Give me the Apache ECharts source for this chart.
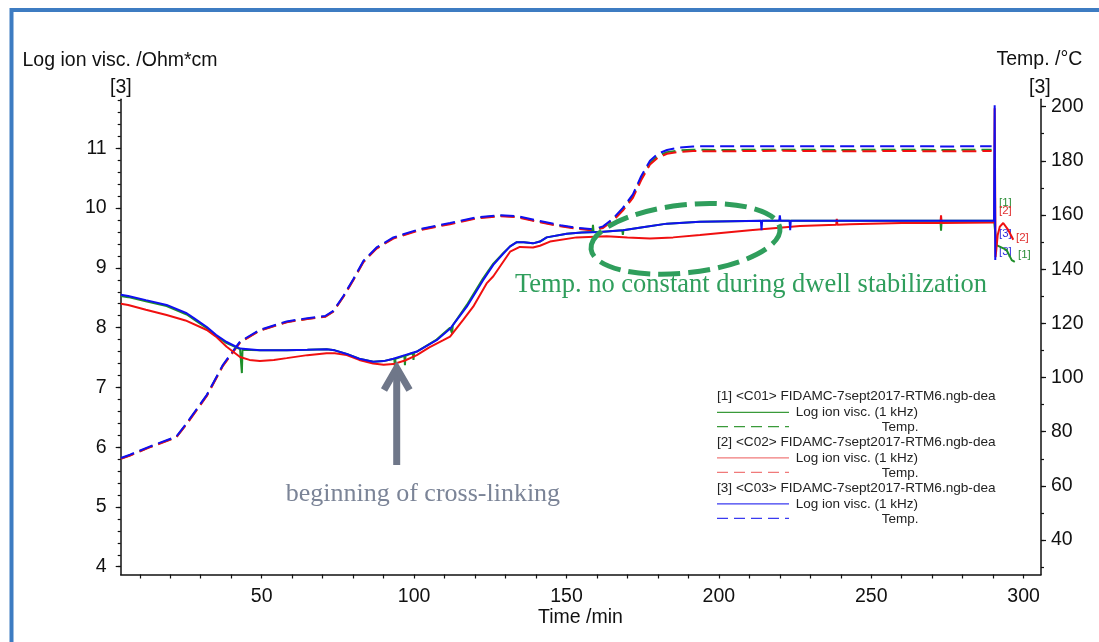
<!DOCTYPE html>
<html><head><meta charset="utf-8">
<script src="https://cdn.jsdelivr.net/npm/echarts@6/dist/echarts.min.js"></script>
<style>html,body{margin:0;padding:0;background:#fff;}#c{width:1099px;height:642px;}</style>
</head><body><div id="c"></div>
<script>
// ---- tick labels ----
const xTicks = [50, 100, 150, 200, 250, 300];
const leftTicks = [4, 5, 6, 7, 8, 9, 10, 11];
const rightTicks = [40, 60, 80, 100, 120, 140, 160, 180, 200];

// ---- temperature (°C), shared time base (min) ----
const tTemp = [3.8, 6.8, 13, 22, 25.8, 32, 37.3, 42.9, 49.4, 58.2, 65, 70.8, 73.5, 76.8, 80.1, 83.4, 87.7, 93.2, 101.9, 111.8, 120.5, 128.2, 133.7, 141.3, 148, 154, 158.7, 162, 165.3, 168.5, 171.8, 174.5, 177.4, 180, 183, 187, 191.5, 200, 220, 240, 260, 275, 289.5];
const tempBlue  = [70.3, 71.5, 74.4, 78.2, 83.8, 93.6, 104.7, 113.3, 117.6, 120.7, 121.9, 122.7, 124.6, 130.1, 136.4, 143.1, 148.0, 151.7, 154.8, 157.0, 159.1, 159.9, 159.6, 157.8, 156.2, 155.2, 154.7, 155.8, 158.7, 162.6, 167.6, 174.3, 180.0, 182.6, 184.0, 184.9, 185.3, 185.4, 185.4, 185.4, 185.4, 185.3, 185.4];
const tempRed   = [70.0, 71.2, 74.1, 77.9, 83.4, 93.2, 104.3, 112.9, 117.3, 120.4, 121.6, 122.4, 124.3, 129.7, 136.0, 142.6, 147.6, 151.3, 154.4, 156.6, 158.7, 159.5, 159.2, 157.3, 155.8, 154.8, 154.3, 155.2, 157.9, 161.6, 166.3, 172.8, 178.6, 181.2, 182.6, 183.3, 183.6, 183.5, 183.7, 183.5, 183.6, 183.5, 183.6];
const tempGreen = [70.1, 71.3, 74.2, 78.0, 83.6, 93.4, 104.5, 113.1, 117.4, 120.5, 121.7, 122.5, 124.4, 129.9, 136.2, 142.8, 147.8, 151.5, 154.6, 156.8, 158.9, 159.7, 159.4, 157.5, 156.0, 155.0, 154.5, 155.5, 158.3, 162.1, 166.9, 173.5, 179.2, 181.8, 183.2, 183.8, 184.1, 184.0, 184.1, 184.0, 184.1, 184.0, 184.1];

// ---- log ion viscosity, blue [3] ----
const tViscBlue = [3.8, 6.2, 12, 18.8, 25.4, 28, 32, 35, 38.5, 42.9, 49.4, 58.2, 65, 71.3, 74, 77.9, 82, 86.6, 90, 93.2, 97, 100.9, 107.4, 111.8, 117.3, 122.6, 126, 129.3, 131.5, 133.7, 136, 139, 141.3, 143.5, 150.1, 155, 161, 168.5, 175, 183, 193.8, 213.8, 214, 214.2, 219.8, 220, 220.2, 223.2, 223.4, 223.6, 250, 290.3, 290.5, 290.7];
const viscBlue  = [8.55, 8.53, 8.46, 8.38, 8.24, 8.15, 8.01, 7.88, 7.76, 7.65, 7.62, 7.62, 7.63, 7.64, 7.62, 7.56, 7.48, 7.43, 7.44, 7.48, 7.54, 7.60, 7.79, 7.98, 8.35, 8.79, 9.05, 9.24, 9.36, 9.43, 9.43, 9.41, 9.44, 9.51, 9.57, 9.59, 9.60, 9.63, 9.68, 9.74, 9.77, 9.79, 9.63, 9.79, 9.79, 9.88, 9.79, 9.79, 9.63, 9.79, 9.79, 9.79, 11.72, 9.13];

// ---- log ion viscosity, red [2] ----
const tViscRed = [3.8, 6.2, 12, 18.8, 25, 32, 35, 38.5, 42.9, 46, 49.4, 54, 58.2, 65, 71.3, 74, 77.9, 82, 86.6, 90, 93.2, 97, 100.9, 105, 109.6, 111.8, 116.1, 119.4, 123.8, 126, 131.5, 134.7, 139, 141.3, 144.6, 153.3, 163.2, 170, 177.4, 185, 193.8, 210.2, 226.6, 238.5, 238.7, 238.9, 243, 260, 272.7, 272.9, 273.1, 290.3, 290.5, 290.8, 291.5, 292.2, 293.3, 295, 296.1, 296.6];
const viscRed  = [8.40, 8.38, 8.30, 8.21, 8.12, 7.96, 7.85, 7.68, 7.51, 7.46, 7.44, 7.46, 7.49, 7.54, 7.57, 7.57, 7.54, 7.46, 7.40, 7.38, 7.39, 7.45, 7.54, 7.67, 7.79, 7.85, 8.13, 8.35, 8.74, 8.86, 9.27, 9.35, 9.34, 9.37, 9.44, 9.51, 9.53, 9.51, 9.49, 9.51, 9.55, 9.63, 9.70, 9.72, 9.82, 9.72, 9.73, 9.75, 9.75, 9.88, 9.75, 9.76, 11.67, 9.18, 9.55, 9.69, 9.75, 9.63, 9.52, 9.47];

// ---- log ion viscosity, green [1] ----
const tViscGreen = [3.8, 6.2, 12, 18.8, 25.4, 28, 32, 35, 38.5, 42.9, 43.3, 43.5, 43.7, 49.4, 58.2, 65, 71.3, 74, 77.9, 82, 86.6, 90, 93.5, 93.7, 93.9, 96.8, 97, 97.2, 99.6, 99.8, 100, 100.9, 107.4, 111.8, 112.3, 112.5, 112.7, 117.3, 122.6, 126, 129.3, 131.5, 133.7, 136, 139, 141.3, 143.5, 150.1, 155, 158.5, 158.7, 158.9, 161, 168.3, 168.5, 168.7, 175, 183, 193.8, 215.8, 250, 272.7, 272.9, 273.1, 290.3, 291.1, 294.4, 296.1, 297.1];
const viscGreen  = [8.53, 8.51, 8.44, 8.36, 8.22, 8.13, 7.99, 7.86, 7.74, 7.64, 7.63, 7.24, 7.63, 7.62, 7.62, 7.63, 7.64, 7.62, 7.56, 7.48, 7.43, 7.44, 7.48, 7.35, 7.48, 7.53, 7.37, 7.53, 7.58, 7.46, 7.58, 7.60, 7.80, 8.00, 8.03, 7.90, 8.04, 8.38, 8.82, 9.07, 9.25, 9.36, 9.43, 9.43, 9.41, 9.44, 9.51, 9.57, 9.59, 9.60, 9.72, 9.60, 9.60, 9.63, 9.55, 9.63, 9.68, 9.74, 9.77, 9.79, 9.79, 9.79, 9.62, 9.79, 9.79, 9.38, 9.30, 9.13, 9.10];

const C_GREEN = '#1f8f2a', C_RED = '#f01010', C_BLUE = '#1010f0';
const pairs = (ts, vs) => ts.map((t, i) => [t, vs[i]]);
const range = (a, b, s) => { const r = []; for (let v = a; v <= b + 1e-9; v += s) r.push(+v.toFixed(4)); return r; };

const FONT = 'Liberation Sans, Arial, sans-serif';
const SERIF = 'Liberation Serif, Times New Roman, serif';
const chart = echarts.init(document.getElementById('c'), null, { renderer: 'canvas' });

function visc(name, ts, vs, color, z) {
  return { name, type: 'line', xAxisIndex: 0, yAxisIndex: 0, data: pairs(ts, vs), showSymbol: false, symbol: 'none',
    lineStyle: { color, width: 2 }, z, animation: false, silent: true };
}
function temp(name, ts, vs, color, z) {
  return { name, type: 'line', xAxisIndex: 0, yAxisIndex: 2, data: pairs(ts, vs), showSymbol: false, symbol: 'none',
    lineStyle: { color, width: 2, type: [14, 6] }, z, animation: false, silent: true };
}

const axisLine = { show: true, lineStyle: { color: '#111', width: 1.5 } };
const legendX = 717, legendLineEnd = 789;
function legendGroup(y0, header, lineColor) {
  return [
    { type: 'text', style: { text: header, x: legendX, y: y0, font: '13.6px ' + FONT, fill: '#222', verticalAlign: 'middle' } },
    { type: 'line', shape: { x1: legendX, y1: y0 + 15.6, x2: legendLineEnd, y2: y0 + 15.6 }, style: { stroke: lineColor, lineWidth: 1.2 } },
    { type: 'text', style: { text: 'Log ion visc. (1 kHz)', x: 795.7, y: y0 + 15.6, font: '13.5px ' + FONT, fill: '#222', verticalAlign: 'middle' } },
    { type: 'line', shape: { x1: legendX, y1: y0 + 30, x2: legendLineEnd, y2: y0 + 30 }, style: { stroke: lineColor, lineWidth: 1.2, lineDash: [11, 6] } },
    { type: 'text', style: { text: 'Temp.', x: 881.7, y: y0 + 30.5, font: '13.5px ' + FONT, fill: '#222', verticalAlign: 'middle' } }
  ];
}

const option = {
  backgroundColor: '#fff',
  animation: false,
  grid: { left: 120.7, right: 58, top: 99.3, bottom: 67.5, containLabel: false },
  xAxis: [{
    type: 'value', min: 3.74, max: 305.7, position: 'bottom',
    axisLine,
    axisTick: { show: true, customValues: range(10, 300, 10), length: 4, lineStyle: { color: '#111', width: 1.2 } },
    axisLabel: { show: true, customValues: xTicks, fontSize: 19.5, fontFamily: FONT, color: '#111', margin: 12 },
    splitLine: { show: false }
  }],
  yAxis: [
    { type: 'value', position: 'left', min: 3.87, max: 11.82, axisLine,
      axisTick: { show: true, customValues: leftTicks, length: 5, lineStyle: { color: '#111', width: 1.2 } },
      axisLabel: { show: true, customValues: leftTicks, fontSize: 19.5, fontFamily: FONT, color: '#111', margin: 14 },
      splitLine: { show: false } },
    { type: 'value', position: 'left', min: 3.87, max: 11.82, axisLine: { show: false },
      axisTick: { show: true, customValues: range(4, 11.8, 0.2), length: 3, lineStyle: { color: '#111', width: 1.2 } },
      axisLabel: { show: false }, splitLine: { show: false } },
    { type: 'value', position: 'right', min: 27.27, max: 202.7, axisLine,
      axisTick: { show: true, customValues: rightTicks, length: 5, lineStyle: { color: '#111', width: 1.2 } },
      axisLabel: { show: true, customValues: rightTicks, fontSize: 19.5, fontFamily: FONT, color: '#111', margin: 10 },
      splitLine: { show: false } },
    { type: 'value', position: 'right', min: 27.27, max: 202.7, axisLine: { show: false },
      axisTick: { show: true, customValues: range(30, 200, 10), length: 3, lineStyle: { color: '#111', width: 1.2 } },
      axisLabel: { show: false }, splitLine: { show: false } }
  ],
  series: [
    temp('Temp [1]', tTemp, tempGreen, C_GREEN, 2),
    temp('Temp [2]', tTemp, tempRed, C_RED, 3),
    temp('Temp [3]', tTemp, tempBlue, C_BLUE, 4),
    visc('Visc [1]', tViscGreen, viscGreen, C_GREEN, 5),
    visc('Visc [2]', tViscRed, viscRed, C_RED, 6),
    visc('Visc [3]', tViscBlue, viscBlue, C_BLUE, 7)
  ],
  graphic: [
    { type: 'rect', shape: { x: 11.5, y: 10, width: 1200, height: 1000 }, style: { fill: 'none', stroke: '#3d7cc2', lineWidth: 4 }, z: 100 },
    { type: 'text', style: { text: 'Log ion visc. /Ohm*cm', x: 22.5, y: 61, font: '19.5px ' + FONT, fill: '#111', verticalAlign: 'middle' } },
    { type: 'text', style: { text: '[3]', x: 110, y: 88, font: '19.5px ' + FONT, fill: '#111', verticalAlign: 'middle' } },
    { type: 'text', style: { text: 'Temp. /°C', x: 996.5, y: 60, font: '19.5px ' + FONT, fill: '#111', verticalAlign: 'middle' } },
    { type: 'text', style: { text: '[3]', x: 1029, y: 88, font: '19.5px ' + FONT, fill: '#111', verticalAlign: 'middle' } },
    { type: 'text', style: { text: 'Time /min', x: 580.5, y: 618, font: '19.5px ' + FONT, fill: '#111', align: 'center', verticalAlign: 'middle' } },
    // annotations
    { type: 'text', style: { text: 'Temp. no constant during dwell stabilization', x: 515, y: 285, font: '26.5px ' + SERIF, fill: '#2f9e5c', verticalAlign: 'middle' } },
    { type: 'text', style: { text: 'beginning of cross-linking', x: 285.7, y: 494, font: '26px ' + SERIF, fill: '#7b8497', verticalAlign: 'middle' } },
    { type: 'ellipse', x: 685.5, y: 238.8, rotation: 0.11, shape: { cx: 0, cy: 0, rx: 95, ry: 34 }, style: { fill: 'none', stroke: '#2f9e5c', lineWidth: 5, lineDash: [22, 8] }, z: 50 },
    { type: 'line', shape: { x1: 396.7, y1: 465, x2: 396.7, y2: 370 }, style: { stroke: '#6f7789', lineWidth: 7 }, z: 50 },
    { type: 'polyline', shape: { points: [[384, 390], [396.7, 368], [409.5, 390]] }, style: { stroke: '#6f7789', lineWidth: 7, fill: 'none', lineJoin: 'miter' }, z: 50 },
    // curve end labels
    { type: 'text', style: { text: '[1]', x: 999, y: 203, font: '11.5px ' + FONT, fill: '#2f8f3a', verticalAlign: 'middle' } },
    { type: 'text', style: { text: '[2]', x: 999, y: 211, font: '11.5px ' + FONT, fill: '#e03030', verticalAlign: 'middle' } },
    { type: 'text', style: { text: '[3]', x: 999, y: 234, font: '11.5px ' + FONT, fill: '#3030e0', verticalAlign: 'middle' } },
    { type: 'text', style: { text: '[3]', x: 999, y: 252, font: '11.5px ' + FONT, fill: '#3030e0', verticalAlign: 'middle' } },
    { type: 'text', style: { text: '[2]', x: 1016, y: 238, font: '11.5px ' + FONT, fill: '#e03030', verticalAlign: 'middle' } },
    { type: 'text', style: { text: '[1]', x: 1018, y: 255, font: '11.5px ' + FONT, fill: '#2f8f3a', verticalAlign: 'middle' } },
    // legend
    ...legendGroup(396.7, '[1] <C01> FIDAMC-7sept2017-RTM6.ngb-dea', '#3a9a3a'),
    ...legendGroup(442.3, '[2] <C02> FIDAMC-7sept2017-RTM6.ngb-dea', '#f07a7a'),
    ...legendGroup(488.3, '[3] <C03> FIDAMC-7sept2017-RTM6.ngb-dea', '#3a3af0')
  ]
};
chart.setOption(option);
</script>
</body></html>
